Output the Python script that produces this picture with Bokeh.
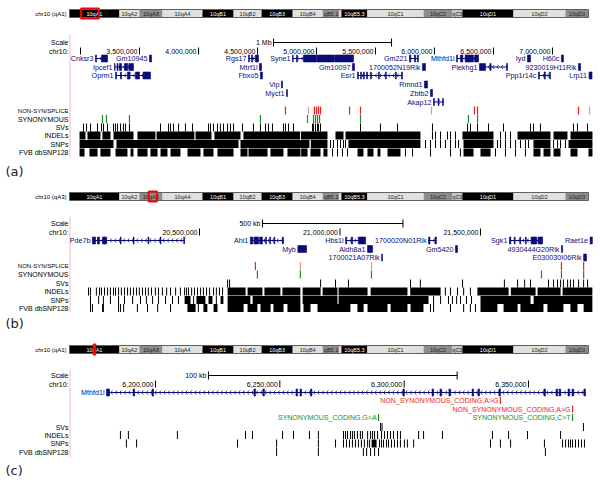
import numpy as np
from bokeh.plotting import figure
from bokeh.models import Range1d
from bokeh.core.properties import value
from bokeh.embed import file_html
from bokeh.resources import INLINE

FONT = "Liberation Sans"
NAVY = "#0c0c78"
RED = "#f01e1e"
PINK = "#f49090"
GREEN = "#1e8c28"

# ---------------- data ----------------
# chr10 ideogram (Mb)
band_names = ["10qA1", "10qA2", "10qA3", "10qA4", "10qB1", "10qB2", "10qB3", "10qB4", "qB5.1", "",
              "10qB5.3", "10qC1", "10qC2", "qC3", "10qD1", "10qD2", "10qD3"]
band_start = [0.0, 12.5, 17.5, 23.3, 33.3, 41.1, 48.1, 55.9, 63.4, 67.6, 68.1, 74.6, 88.7, 95.9, 98.4, 111.2, 124.2]
band_end = [12.5, 17.5, 23.3, 33.3, 41.1, 48.1, 55.9, 63.4, 67.6, 68.1, 74.6, 88.7, 95.9, 98.4, 111.2, 124.2, 129.99]
band_stain = ["gpos100", "gneg", "gpos66", "gneg", "gpos100", "gneg", "gpos100", "gneg", "gpos66", "gneg",
              "gpos100", "gneg", "gpos66", "gpos33", "gpos100", "gneg", "gpos66"]
chrom_len = 129.99

# ----- panel (a) : kb -----
view_a = (2900, 7340)
ticks_a = [3000, 3500, 4000, 4500, 5000, 5500, 6000, 6500, 7000]
tick_lbl_a = ["", "3,500,000", "4,000,000", "4,500,000", "5,000,000", "5,500,000", "6,000,000", "6,500,000", "7,000,000"]
scale_a = (4636, 1000, "1 Mb")
genes_a_name = ["Cnksr3", "Gm10945", "Rgs17", "Syne1", "Gm221", "Mthfd1l", "Iyd", "H60c",
                "Ipcef1", "Mtrf1l", "Gm10097", "1700052N19Rik", "Plekhg1", "9230019H11Rik",
                "Oprm1", "Fbxo5", "Esr1", "Ppp1r14c", "Lrp11",
                "Vip", "Rmnd1", "Myct1", "Zbtb2", "Akap12"]
genes_a_row = [0, 0, 0, 0, 0, 0, 0, 0, 1, 1, 1, 1, 1, 1, 2, 2, 2, 2, 2, 3, 3, 4, 4, 5]
genes_a_start = [3127, 3585, 4424, 4797, 5788, 6187, 6788, 7076,
                 3288, 4517, 5305, 5898, 6381, 7220,
                 3297, 4525, 5348, 6881, 7310,
                 4703, 5915, 4746, 5966, 5992]
genes_a_end = [3229, 3602, 4508, 5314, 5864, 6373, 6814, 7093,
               3449, 4534, 5322, 5924, 6619, 7238,
               3593, 4542, 5729, 6983, 7335,
               4712, 5941, 4754, 5983, 6076]
genes_a_exons = [
    [(3127, 3136), (3178, 3229)], [], [(4424, 4432), (4449, 4458), (4483, 4508)],
    [(4797, 4803), (4830, 4838), (4890, 5000), (5005, 5150), (5155, 5314)],
    [(5788, 5800), (5830, 5840), (5855, 5864)],
    [(6187, 6195), (6220, 6240), (6260, 6330), (6340, 6373)], [], [],
    [(3288, 3293), (3310, 3318), (3330, 3348), (3373, 3400), (3410, 3449)], [], [], [],
    [(6381, 6432), (6470, 6480), (6610, 6619)], [],
    [(3297, 3305), (3339, 3347), (3398, 3420), (3466, 3500), (3530, 3593)], [],
    [(5348, 5356), (5373, 5381), (5398, 5406), (5424, 5432), (5457, 5465), (5525, 5533), (5584, 5592),
     (5669, 5677), (5720, 5729)],
    [(6881, 6890), (6930, 6940), (6975, 6983)], [],
    [], [], [], [], [(5992, 6000), (6030, 6038), (6068, 6076)]]
nonsyn_a = [4737, 4983, 5000, 5017, 5034, 5280, 5373, 6339, 6365, 7221]
nonsyn_a_faint = [4932, 5975, 7314]
syn_a = [3186, 3220, 3415, 4525, 4924, 4975, 4992, 5009, 5026, 5373, 6288, 6365]
sv_a = [3025, 3051, 3085, 3144, 3178, 3195, 3229, 3280, 3297, 3314, 3339, 3364, 3381, 3415, 3678, 3746, 3763,
        3788, 3831, 3890, 3949, 4085, 4102, 4127, 4161, 4186, 4212, 4246, 4271, 4297, 4373, 4466, 4525, 4568,
        4593, 4627, 4720, 4737, 4763, 4805, 4966, 4975, 4992, 5009, 5017, 5034, 5373, 5542, 5687, 5983, 6280,
        6305, 6365, 6458, 6585, 6814, 6839, 6898, 7178, 7212, 7297]
indel_a_blocks = [(2992, 3042), (3059, 3169), (3186, 3254), (3280, 3449), (3483, 3635), (3645, 3965),
                  (3975, 4110), (4135, 4356), (4381, 4860), (4868, 5093), (5161, 5229), (5246, 5881),
                  (6237, 6500), (6704, 6983), (7009, 7127), (7153, 7339)]
indel_a_ticks = [5983, 6009, 6051, 6110, 6136, 6178, 6560, 6602, 6644]
snp_a_blocks = [(2992, 3280), (3305, 4339), (4356, 4940), (4952, 5093), (5271, 5881), (6246, 6500),
                (6839, 6983), (7136, 7339)]
snp_a_ticks = [5119, 5144, 5178, 5204, 5229, 5246, 5924, 5966, 6009, 6051, 6093, 6136, 6178, 6204, 6534,
               6560, 6602, 6644, 6687, 6729, 6771, 6797, 7009, 7043, 7068, 7110]
fvb_a_blocks = [(2992, 3034), (3076, 3144), (3169, 3254), (3297, 3398), (3424, 3449), (3483, 3568),
                (3593, 3653), (3678, 3737), (3763, 3847), (3907, 4017), (4042, 4127), (4161, 4297),
                (4356, 4415), (4424, 4585), (4610, 4720), (4754, 4864), (4870, 4924), (4949, 5034),
                (5059, 5093), (5348, 5398), (5432, 5483), (5517, 5542), (5602, 5712), (6246, 6331),
                (6390, 6475), (6839, 6898), (6924, 6983), (7009, 7068), (7153, 7212), (7305, 7339)]
fvb_a_ticks = [5136, 5178, 5220, 5263, 5754, 5814, 5966, 6136, 6220, 6517, 6602, 6687, 6771]

# ----- panel (b) : kb -----
view_b = (19840, 21900)
ticks_b = [20500, 21000, 21500]
tick_lbl_b = ["20,500,000", "21,000,000", "21,500,000"]
scale_b = (20724, 500, "500 kb")
genes_b_name = ["Pde7b", "Ahi1", "Hbs1l", "1700020N01Rik", "Sgk1", "Raet1e",
                "Myb", "Aldh8a1", "Gm5420", "4930444G20Rik", "1700021A07Rik", "E030030I06Rik"]
genes_b_row = [0, 0, 0, 0, 0, 0, 1, 1, 1, 1, 2, 2]
genes_b_start = [20119, 20681, 21020, 21315, 21603, 21890, 20850, 21098, 21411, 21788, 21148, 21867]
genes_b_end = [20447, 20799, 21091, 21343, 21721, 21898, 20881, 21116, 21418, 21792, 21151, 21877]
genes_b_exons = [
    [(20119, 20130), (20137, 20144), (20155, 20169), (20218, 20221), (20264, 20267), (20317, 20320),
     (20360, 20363), (20444, 20447)],
    [(20681, 20690), (20694, 20710), (20714, 20724), (20735, 20738), (20750, 20753), (20765, 20768),
     (20795, 20799)],
    [(21020, 21024), (21040, 21045), (21065, 21091)],
    [(21315, 21320), (21338, 21343)],
    [(21603, 21608), (21620, 21623), (21640, 21643), (21660, 21663), (21680, 21700), (21705, 21721)],
    [], [], [], [], [], [], []]
nonsyn_b = [20699, 21788, 21867]
nonsyn_b_faint = [20859, 21112]
syn_b = [20706, 20859, 21112, 21717, 21788, 21867]
sv_b = [20600, 20607, 20931, 20984, 21030, 21251, 21286, 21436, 21585, 21632, 21657, 21678, 21742, 21760,
        21774, 21785, 21795, 21810, 21820, 21831, 21849, 21867, 21881]
indel_b_blocks = [(20600, 20664), (20671, 20724), (20731, 20788), (20795, 20859), (20867, 20931),
                  (20938, 20991), (20995, 21098), (21109, 21240), (21250, 21358), (21489, 21600),
                  (21608, 21696), (21703, 21785), (21792, 21898)]
indel_b_ticks = [20105, 20112, 20133, 20144, 20151, 20162, 20173, 20183, 20194, 20201, 20212, 20222, 20233,
                 20244, 20254, 20265, 20276, 20286, 20297, 20308, 20318, 20329, 20343, 20354, 20368, 20383,
                 20397, 20415, 20432, 20447, 20454, 20461, 20472, 20482, 20493, 20504, 20514, 20525, 20536,
                 20550, 20560, 20571, 20582, 21375, 21393, 21418, 21440, 21464]
snp_b_blocks = [(20447, 20468), (20489, 20521), (20532, 20546), (20575, 20585), (20600, 20681),
                (20689, 20859), (20867, 20991), (20995, 21315), (21500, 21678), (21689, 21898)]
snp_b_ticks = [20112, 20141, 20158, 20183, 20212, 20233, 20262, 20290, 20311, 20333, 20354, 20379, 20404,
               20425, 20479, 20560, 21333, 21358, 21386, 21400, 21415, 21429, 21450, 21468]
fvb_b_blocks = [(20457, 20486), (20514, 20528), (20550, 20564), (20600, 20657), (20671, 20706),
                (20717, 20753), (20763, 20799), (20813, 20859), (20870, 20895), (20920, 21037),
                (21062, 21084), (21098, 21169), (21180, 21240), (21251, 21297), (21500, 21560),
                (21582, 21632), (21642, 21724), (21738, 21795), (21820, 21845), (21867, 21898)]
fvb_b_ticks = [20112, 20119, 20155, 20158, 20212, 20219, 20230, 20279, 20315, 20351, 20397, 20496, 21322,
               21333, 21393, 21440, 21464, 21482]

# ----- panel (c) : kb -----
view_c = (6141, 6376)
ticks_c = [6200, 6250, 6300, 6350]
tick_lbl_c = ["6,200,000", "6,250,000", "6,300,000", "6,350,000"]
scale_c = (6221.3, 100, "100 kb")
genes_c_name = ["Mthfd1l"]
genes_c_row = [0]
genes_c_start = [6180.3]
genes_c_end = [6372.9]
genes_c_exons = [[(6180.3, 6181.5), (6191.0, 6191.6), (6198.6, 6199.2), (6239.6, 6240.2), (6243.2, 6243.8),
                  (6256.5, 6257.1), (6258.1, 6258.7), (6262.3, 6262.9), (6299.5, 6300.1), (6311.2, 6311.8),
                  (6314.4, 6315.0), (6318.0, 6318.6), (6327.3, 6327.9), (6329.7, 6330.3), (6338.1, 6338.7),
                  (6356.2, 6356.8), (6361.1, 6361.7), (6362.3, 6362.9), (6365.9, 6366.5), (6367.5, 6368.1),
                  (6372.3, 6372.9)]]
nonsyn_c = [6338.7, 6367.7]
nonsyn_c_lbl = ["NON_SYNONYMOUS_CODING,A>G", "NON_SYNONYMOUS_CODING,A>G"]
syn_c = [6289.7, 6367.7]
syn_c_lbl = ["SYNONYMOUS_CODING,G>A", "SYNONYMOUS_CODING,C>T"]
sv_c = [6290.5, 6291.1, 6372.1]
indel_c_ticks = [6185.9, 6189.1, 6208.8, 6236.2, 6239.0, 6251.1, 6255.5, 6261.9, 6265.5, 6275.6, 6276.4,
                 6277.2, 6278.4, 6279.2, 6280.0, 6281.2, 6282.4, 6283.2, 6285.3, 6286.5, 6287.3, 6288.1,
                 6289.3, 6290.9, 6292.1, 6293.3, 6294.5, 6295.7, 6297.3, 6298.5, 6305.8, 6307.8, 6315.4,
                 6335.5, 6342.0, 6349.6, 6362.9]
snp_c_blocks = [(6286.9, 6288.9)]
snp_c_ticks = [6188.3, 6192.4, 6233.0, 6248.7, 6265.5, 6272.4, 6275.6, 6276.8, 6278.0, 6279.2, 6280.4,
               6281.6, 6282.8, 6284.0, 6285.3, 6286.1, 6290.1, 6290.9, 6291.7, 6292.9, 6293.7, 6294.9,
               6296.1, 6297.3, 6298.5, 6300.1, 6301.3, 6303.8, 6334.7, 6338.7, 6342.8, 6356.4, 6363.7,
               6364.9, 6366.1, 6366.9, 6367.7, 6368.9, 6370.1, 6371.3, 6372.5]
fvb_c_ticks = [6248.7, 6265.5, 6283.6, 6284.9, 6286.5, 6288.1, 6289.7, 6356.8]

# ---------------- figure ----------------
W, H = 600, 482
p = figure(width=W, height=H, x_range=Range1d(0, W), y_range=Range1d(H, 0),
           output_backend="svg", toolbar_location=None, x_axis_type=None, y_axis_type=None,
           min_border=0)
p.grid.visible = False
p.outline_line_color = None
p.extra_x_ranges = {"chrom": Range1d(-17.282, 132.996),
                    "a": Range1d(2322.0, 7407.0),
                    "b": Range1d(19791.8, 21927.0),
                    "c": Range1d(6137.67, 6378.95)}
KB_PX = {k: (r.end - r.start) / float(W) for k, r in p.extra_x_ranges.items()}

STAIN = {"gpos100": "#000000", "gpos66": "#8c8c8c", "gpos33": "#c4c4c4", "gneg": "#e0e0e0"}
LABEL_X = 68


def txt(x, y, t, size="7px", color="black", align="right", rng="default", font=FONT, xoff=0):
    p.text(x=x, y=y, text=t, text_font=value(font), text_font_size=size, text_color=color,
           text_align=align, text_baseline="middle", x_offset=xoff, x_range_name=rng)


def ideogram(y0, label, view, filled):
    p.quad(left=band_start, right=band_end, top=y0, bottom=y0 + 8,
           fill_color=[STAIN[s] for s in band_stain], line_color=None, x_range_name="chrom")
    p.quad(left=[0], right=[chrom_len], top=[y0], bottom=[y0 + 8], fill_color=None,
           line_color="#606060", line_width=1, x_range_name="chrom")
    mids = [(a + b) / 2 for a, b in zip(band_start, band_end)]
    cols = ["white" if s == "gpos100" else "#222222" for s in band_stain]
    txt(mids, [y0 + 4.3] * len(mids), band_names, size="5.5px", color=cols, align="center", rng="chrom")
    txt([LABEL_X - 2], [y0 + 4.3], [label], size="6px")
    p.quad(left=[view[0] / 1000], right=[view[1] / 1000], top=[y0 - 1], bottom=[y0 + 9],
           fill_color="#ff0000" if filled else None, line_color="#ff0000",
           line_width=2.5 if filled else 2, x_range_name="chrom")


def scale_row(rng, y, sc):
    s, L, lab = sc
    txt([LABEL_X], [y], ["Scale"])
    p.segment(x0=[s], x1=[s + L], y0=[y], y1=[y], line_color="black", line_width=1, x_range_name=rng)
    p.segment(x0=[s, s + L], x1=[s, s + L], y0=[y - 4, y - 4], y1=[y + 4, y + 4], line_color="black",
              x_range_name=rng)
    txt([s], [y], [lab], xoff=-2, rng=rng)


def tick_row(rng, y, ticks, labels):
    txt([LABEL_X], [y], ["chr10:"])
    p.segment(x0=ticks, x1=ticks, y0=[y - 4] * len(ticks), y1=[y + 3] * len(ticks), line_color="black",
              x_range_name=rng)
    txt(ticks, [y] * len(ticks), labels, xoff=-2, rng=rng)


def genes(rng, names, starts, ends, rows, exons, row_y):
    ys = [row_y[r] for r in rows]
    p.segment(x0=starts, x1=ends, y0=ys, y1=ys, line_color=NAVY, line_width=1, x_range_name=rng)
    L, R, T, B = [], [], [], []
    cx, cy = [], []
    for s, e, y, ex in zip(starts, ends, ys, exons):
        blocks = ex if ex else [(s, e)]
        for a, b in blocks:
            L.append(a); R.append(b); T.append(y - 3.5); B.append(y + 3.5)
        if ex:
            step = 4.4 * KB_PX[rng]
            for xx in np.arange(s + step, e - step * 0.5, step):
                cx.append(xx); cy.append(y)
    p.quad(left=L, right=R, top=T, bottom=B, fill_color=NAVY, line_color=NAVY, line_width=0.6,
           x_range_name=rng)
    if cx:
        w = 1.6 * KB_PX[rng]
        cx = np.array(cx); cy = np.array(cy)
        # "<" shaped chevrons (minus strand)
        p.segment(x0=cx, y0=cy, x1=cx + w, y1=cy - 2, line_color=NAVY, line_width=0.8, x_range_name=rng)
        p.segment(x0=cx, y0=cy, x1=cx + w, y1=cy + 2, line_color=NAVY, line_width=0.8, x_range_name=rng)
    txt(starts, ys, names, size="7.2px", color=NAVY, xoff=-2, rng=rng)


def ticks_track(rng, y, xs, color="black", h=4, lw=1):
    if len(xs):
        p.segment(x0=xs, x1=xs, y0=[y - h] * len(xs), y1=[y + h] * len(xs), line_color=color,
                  line_width=lw, x_range_name=rng)


def block_track(rng, y, blocks, h=4):
    if blocks:
        p.quad(left=[b[0] for b in blocks], right=[b[1] for b in blocks], top=[y - h] * len(blocks),
               bottom=[y + h] * len(blocks), fill_color="black", line_color=None, x_range_name=rng)


def guide(y0, y1):
    p.segment(x0=[69.5], x1=[69.5], y0=[y0], y1=[y1], line_color="#f6b8b8", line_width=1)


def track_labels(ys, names):
    sizes = ["6px" if n == "NON-SYN/SPLICE" else "7px" for n in names]
    p.text(x=[LABEL_X] * len(names), y=ys, text=names, text_font=value(FONT), text_font_size=sizes,
           text_color="black", text_align="right", text_baseline="middle")


track_names = ["NON-SYN/SPLICE", "SYNONYMOUS", "SVs", "INDELs", "SNPs", "FVB dbSNP128"]

# ---------- panel (a) ----------
guide(34, 156)
ideogram(9, "chr10 (qA1)", view_a, False)
scale_row("a", 42, scale_a)
tick_row("a", 51, ticks_a, tick_lbl_a)
genes("a", genes_a_name, genes_a_start, genes_a_end, genes_a_row, genes_a_exons,
      [58, 66.5, 75, 84, 92.5, 101.5])
ya = dict(ns=110, sy=118.5, sv=127, ind=135, snp=143.5, fvb=152)
ticks_track("a", ya["ns"], nonsyn_a, RED, lw=1.2)
ticks_track("a", ya["ns"], nonsyn_a_faint, PINK, lw=1.2)
ticks_track("a", ya["sy"], syn_a, GREEN, lw=1.2)
ticks_track("a", ya["sv"], sv_a)
block_track("a", ya["ind"], indel_a_blocks); ticks_track("a", ya["ind"], indel_a_ticks)
block_track("a", ya["snp"], snp_a_blocks); ticks_track("a", ya["snp"], snp_a_ticks)
block_track("a", ya["fvb"], fvb_a_blocks); ticks_track("a", ya["fvb"], fvb_a_ticks)
track_labels([ya[k] for k in ["ns", "sy", "sv", "ind", "snp", "fvb"]], track_names)
txt([5], [171], ["(a)"], size="13px", color="#222222", align="left", font="DejaVu Sans")

# ---------- panel (b) ----------
guide(216, 312)
ideogram(192, "chr10 (qA3)", view_b, False)
scale_row("b", 223, scale_b)
tick_row("b", 232, ticks_b, tick_lbl_b)
genes("b", genes_b_name, genes_b_start, genes_b_end, genes_b_row, genes_b_exons, [240, 248.5, 257])
yb = dict(ns=265.5, sy=274, sv=283, ind=291, snp=299.5, fvb=307.5)
ticks_track("b", yb["ns"], nonsyn_b, RED, lw=1.2)
ticks_track("b", yb["ns"], nonsyn_b_faint, PINK, lw=1.2)
ticks_track("b", yb["sy"], syn_b, GREEN, lw=1.2)
ticks_track("b", yb["sv"], sv_b)
block_track("b", yb["ind"], indel_b_blocks); ticks_track("b", yb["ind"], indel_b_ticks)
block_track("b", yb["snp"], snp_b_blocks); ticks_track("b", yb["snp"], snp_b_ticks)
block_track("b", yb["fvb"], fvb_b_blocks); ticks_track("b", yb["fvb"], fvb_b_ticks)
track_labels([yb[k] for k in ["ns", "sy", "sv", "ind", "snp", "fvb"]], track_names)
txt([5], [323], ["(b)"], size="13px", color="#222222", align="left", font="DejaVu Sans")

# ---------- panel (c) ----------
guide(369, 457)
ideogram(345, "chr10 (qA1)", view_c, True)
scale_row("c", 375, scale_c)
tick_row("c", 384, ticks_c, tick_lbl_c)
genes("c", genes_c_name, genes_c_start, genes_c_end, genes_c_row, genes_c_exons, [392])
ns_rows = [400, 408.5]
p.segment(x0=nonsyn_c, x1=nonsyn_c, y0=[y - 3.5 for y in ns_rows], y1=[y + 3.5 for y in ns_rows],
          line_color=RED, line_width=1.2, x_range_name="c")
txt(nonsyn_c, ns_rows, nonsyn_c_lbl, size="7px", color=RED, xoff=-2, rng="c")
sy_rows = [417, 417]
p.segment(x0=syn_c, x1=syn_c, y0=[y - 3.5 for y in sy_rows], y1=[y + 3.5 for y in sy_rows],
          line_color=GREEN, line_width=1.2, x_range_name="c")
txt(syn_c, sy_rows, syn_c_lbl, size="7px", color=GREEN, xoff=-2, rng="c")
yc = dict(sv=426.5, ind=434.5, snp=443, fvb=451.5)
ticks_track("c", yc["sv"], sv_c)
ticks_track("c", yc["ind"], indel_c_ticks)
block_track("c", yc["snp"], snp_c_blocks); ticks_track("c", yc["snp"], snp_c_ticks)
ticks_track("c", yc["fvb"], fvb_c_ticks)
track_labels([yc[k] for k in ["sv", "ind", "snp", "fvb"]], track_names[2:])
txt([5], [470], ["(c)"], size="13px", color="#222222", align="left", font="DejaVu Sans")

open("out.html", "w").write(file_html(p, INLINE))
